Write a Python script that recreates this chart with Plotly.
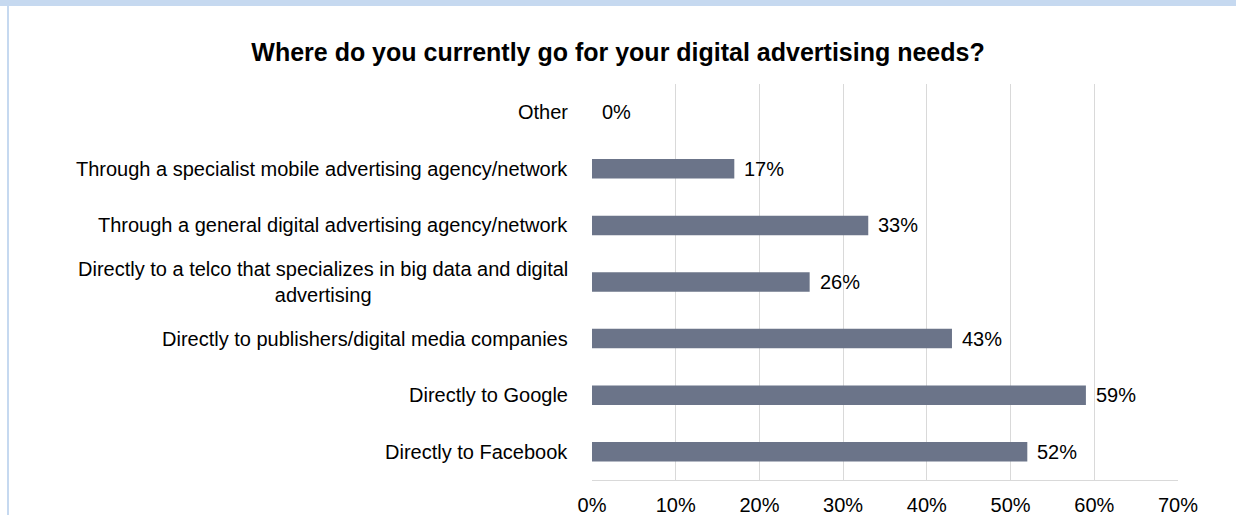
import plotly.graph_objects as go

categories = [
    "Directly to Facebook",
    "Directly to Google",
    "Directly to publishers/digital media companies",
    "Directly to a telco that specializes in big data and digital<br>advertising",
    "Through a general digital advertising agency/network",
    "Through a specialist mobile advertising agency/network",
    "Other",
]
values = [52, 59, 43, 26, 33, 17, 0]
x_ticks = [0, 10, 20, 30, 40, 50, 60, 70]
x_tick_labels = ["0%", "10%", "20%", "30%", "40%", "50%", "60%", "70%"]
title_text = "Where do you currently go for your digital advertising needs?"

BAR = "#6B7489"
FONT = "Liberation Sans, Arial, sans-serif"
PW, PH = 586, 396

fig = go.Figure()
fig.add_trace(go.Bar(
    y=categories, x=values, orientation="h",
    marker=dict(color=BAR, line=dict(width=0)),
    width=0.345, hoverinfo="skip",
))

annotations = []
for c, v in zip(categories, values):
    annotations.append(dict(
        x=v, y=c, xref="x", yref="y", text=f"{v}%", showarrow=False,
        xanchor="left", yanchor="middle", xshift=8,
        font=dict(family=FONT, size=20, color="#000000"),
    ))
    annotations.append(dict(
        x=0, y=c, xref="paper", yref="y", text=c, showarrow=False,
        xanchor="right", yanchor="middle", xshift=-22, align="center",
        font=dict(family=FONT, size=20, color="#000000"),
    ))

fig.update_layout(
    width=1236, height=515,
    margin=dict(l=592, r=58, t=84, b=35, autoexpand=False),
    paper_bgcolor="white", plot_bgcolor="white",
    showlegend=False,
    title=dict(text="<b>" + title_text + "</b>", x=0.5, xanchor="center",
               y=1 - 52 / 515, yanchor="middle",
               font=dict(family=FONT, size=25, color="#000000")),
    annotations=annotations,
    shapes=[
        dict(type="rect", xref="paper", yref="paper", x0=-592 / PW, x1=1 + 58 / PW,
             y0=1 + 78 / PH, y1=1 + 84 / PH, fillcolor="#C6D9F0", line=dict(width=0), layer="below"),
        dict(type="line", xref="paper", yref="paper", x0=-584 / PW, x1=-584 / PW,
             y0=-35 / PH, y1=1 + 78 / PH, line=dict(color="#C6D9F0", width=2)),
    ],
)
fig.update_xaxes(
    range=[0, 70], tickvals=x_ticks, ticktext=x_tick_labels,
    showgrid=True, gridcolor="#D9D9D9", gridwidth=1,
    zeroline=False, showline=True, linecolor="#D9D9D9", linewidth=1, mirror=False,
    ticks="outside", ticklen=7, tickcolor="rgba(0,0,0,0)",
    tickfont=dict(family=FONT, size=20, color="#000000"),
    automargin=False, fixedrange=True,
)
fig.update_yaxes(
    showticklabels=False, showgrid=False, zeroline=False,
    showline=False, categoryorder="array", categoryarray=categories,
    automargin=False, fixedrange=True,
)

fig.write_html("out.html", config={"displayModeBar": False},
               post_script="document.body.style.margin='0';")
